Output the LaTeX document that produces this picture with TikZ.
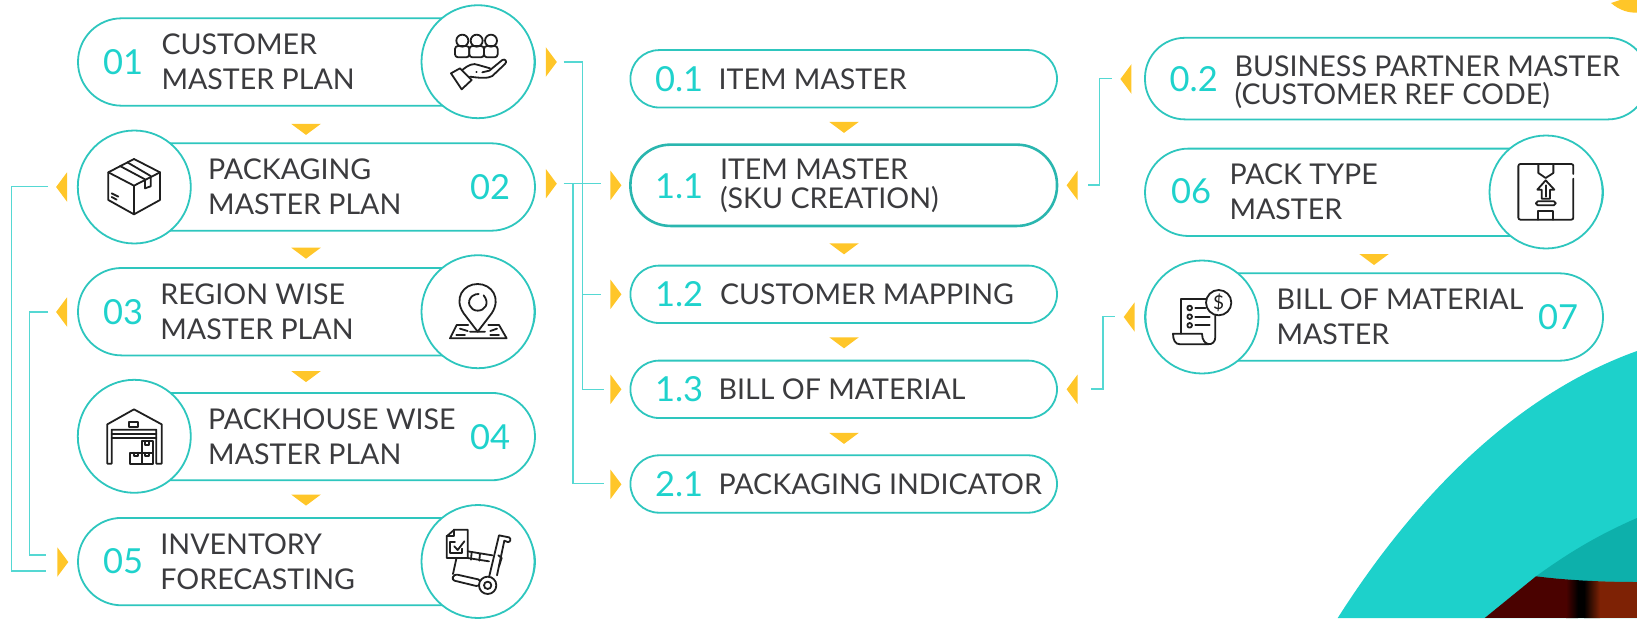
\documentclass[tikz,border=0pt]{standalone}
\usepackage{fontspec}
\setmainfont{Lato}
\usetikzlibrary{shapes.geometric}
\definecolor{pillc}{HTML}{2EC6BE}
\definecolor{linkc}{HTML}{55D8D3}
\definecolor{numc}{HTML}{1FD2CC}
\definecolor{ink}{HTML}{3B3B3E}
\definecolor{ylw}{HTML}{FFC629}
\definecolor{tealA}{HTML}{1DD1CB}
\definecolor{tealB}{HTML}{0DB0AB}
\definecolor{redA}{HTML}{4A0200}
\definecolor{redB}{HTML}{7E2205}
\tikzset{
 x=1pt,y=-1pt,
 pill/.style={draw=pillc,line width=1.8pt,fill=white,rectangle,rounded corners=43.6pt,inner sep=0pt,minimum height=87.4pt,anchor=center},
 spill/.style={draw=pillc,line width=1.8pt,fill=white,rectangle,rounded corners=28.7pt,inner sep=0pt,minimum height=57.4pt,minimum width=426.6pt},
 ring/.style={draw=pillc,line width=1.8pt,fill=white,circle,inner sep=0pt,minimum size=113pt},
 lab/.style={anchor=base west,inner sep=0pt,outer sep=0pt,align=left,text=ink,font=\fontsize{28.6}{35}\selectfont},
 num/.style={anchor=base west,inner sep=0pt,outer sep=0pt,text=numc,font=\fontsize{34.5}{36}\selectfont},
 tri/.style={isosceles triangle,isosceles triangle stretches,fill=ylw,inner sep=0pt,outer sep=0pt},
 trir/.style={tri,minimum width=29.5pt,minimum height=11pt,shape border rotate=0},
 tril/.style={tri,minimum width=29.5pt,minimum height=11pt,shape border rotate=180},
 trid/.style={tri,minimum width=29.5pt,minimum height=11pt,shape border rotate=-90},
 link/.style={draw=linkc,line width=1.4pt},
 ico/.style={draw=black!88,line width=1.8pt,line cap=round,line join=round},
}
\begin{document}
\begin{tikzpicture}
\useasboundingbox (0,0) rectangle (1637,618);
\clip (0,0) rectangle (1637,618);
% corner shapes
\fill[tealA] (1337.7,618) .. controls (1400,520) and (1500,400) .. (1637,351) -- (1637,618) -- cycle;
\fill[tealB] (1536,576.3) .. controls (1575,548) and (1605,532) .. (1637,518) -- (1637,582) .. controls (1600,582) and (1565,580) .. (1536,576.3) -- cycle;
\begin{scope}
\clip (1484.7,618) -- (1536,576.3) .. controls (1565,580) and (1600,582) .. (1637,582) -- (1637,618) -- cycle;
\fill[redA] (1480,570) rectangle (1566,618);
\shade[left color=redA,right color=black] (1566,570) rectangle (1578,618);
\fill[black] (1578,570) rectangle (1584,618);
\shade[left color=black,right color=redB] (1584,570) rectangle (1600,618);
\fill[redB] (1600,570) rectangle (1637,618);
\end{scope}
\fill[ylw] (1611,3) .. controls (1620,11) and (1630,13) .. (1637,12.6) -- (1637,0) -- (1620,0) -- cycle;

% left column
\node[pill,minimum width=457pt] (p1) at (306.5,62) {};
\node[ring] (c1) at (478,61.7) {};
\node[pill,minimum width=457pt] (p2) at (306.5,187) {};
\node[ring] (c2) at (134.3,187) {};
\node[pill,minimum width=457pt] (p3) at (306.5,311.7) {};
\node[ring] (c3) at (478,311.7) {};
\node[pill,minimum width=457pt] (p4) at (306.5,436.6) {};
\node[ring] (c4) at (134.3,436.3) {};
\node[pill,minimum width=457pt] (p5) at (306.5,561.6) {};
\node[ring] (c5) at (478,561.5) {};
\node[num] (n1) at (103,74.5) {01};
\node[lab] (l1) at (161.5,89.3) {CUSTOMER\\MASTER PLAN};
\node[num] (n2) at (470,199.8) {02};
\node[lab] (l2) at (208.2,214) {PACKAGING\\MASTER PLAN};
\node[num] (n3) at (103,324.5) {03};
\node[lab] (l3) at (160.4,339.3) {REGION WISE\\MASTER PLAN};
\node[num] (n4) at (470,449.5) {04};
\node[lab] (l4) at (208.2,464) {PACKHOUSE WISE\\MASTER PLAN};
\node[num] (n5) at (103,573.8) {05};
\node[lab] (l5) at (160.4,589.3) {INVENTORY\\FORECASTING};

% middle column
\node[spill] (m1) at (843.7,78.8) {};
\node[spill,line width=2.6pt,draw=pillc!92!black,minimum height=81.3pt,rounded corners=40pt] (m2) at (843.7,185.3) {};
\node[spill] (m3) at (843.7,294.3) {};
\node[spill] (m4) at (843.7,389.3) {};
\node[spill] (m5) at (843.7,484) {};
\node[num] (nm1) at (655,91) {0.1};
\node[lab] (lm1) at (718.6,89.3) {ITEM MASTER};
\node[num] (nm2) at (655,198) {1.1};
\node[lab,font=\fontsize{28.6}{28.6}\selectfont] (lm2) at (720,208) {ITEM MASTER\\(SKU CREATION)};
\node[num] (nm3) at (655,306) {1.2};
\node[lab] (lm3) at (720,304.3) {CUSTOMER MAPPING};
\node[num] (nm4) at (655,401) {1.3};
\node[lab] (lm4) at (718.6,399.3) {BILL OF MATERIAL};
\node[num] (nm5) at (655,496) {2.1};
\node[lab] (lm5) at (718.6,494.3) {PACKAGING INDICATOR};

% right column
\node[spill,minimum width=503pt,minimum height=81.6pt,rounded corners=40pt] (r1) at (1396.5,78.6) {};
\node[pill,minimum width=458pt] (r2) at (1374,192.3) {};
\node[ring] (c6) at (1546,192) {};
\node[pill,minimum width=458pt] (r3) at (1374,317) {};
\node[ring] (c7) at (1202,317) {};
\node[num] (nr1) at (1169.6,91.7) {0.2};
\node[lab,font=\fontsize{28.6}{27.8}\selectfont] (lr1) at (1234.5,104.7) {BUSINESS PARTNER MASTER\\(CUSTOMER REF CODE)};
\node[num] (nr2) at (1171,203.7) {06};
\node[lab,font=\fontsize{28.6}{35.5}\selectfont] (lr2) at (1229.5,219.5) {PACK TYPE\\MASTER};
\node[num] (nr3) at (1538,329.3) {07};
\node[lab,font=\fontsize{28.6}{35.5}\selectfont] (lr3) at (1276.5,344.9) {BILL OF MATERIAL\\MASTER};

% flow markers
\node[trid] (d1) at (306,128.8) {};
\node[trid] (d2) at (306,252.6) {};
\node[trid] (d3) at (306,376) {};
\node[trid] (d4) at (306,499.5) {};
\node[trid] (d5) at (844,126.8) {};
\node[trid] (d6) at (844,248.2) {};
\node[trid] (d7) at (844,342.2) {};
\node[trid] (d8) at (844,437.8) {};
\node[trid] (d9) at (1374,258.9) {};
\node[trir] (a1) at (550.7,62) {};
\node[trir] (a2) at (550.7,183.7) {};
\node[tril] (a3) at (62.2,187) {};
\node[tril] (a4) at (62.2,312) {};
\node[trir] (a5) at (62.2,562) {};
\node[trir] (b1) at (615.3,185.3) {};
\node[trir] (b2) at (615.3,294.3) {};
\node[trir] (b3) at (615.3,389.3) {};
\node[trir] (b4) at (615.3,484.3) {};
\node[tril] (b5) at (1072.7,185.3) {};
\node[tril] (b6) at (1072.7,389.3) {};
\node[tril] (e1) at (1126.5,79) {};
\node[tril] (e2) at (1129.8,317) {};

% connectors
\coordinate (s1) at (563.6,62);
\coordinate (j1) at (582.5,62);
\coordinate (q2) at (601.4,294.3);
\coordinate (q3) at (604.3,389.3);
\coordinate (s2) at (563.6,183.7);
\coordinate (q1) at (601.4,183.7);
\coordinate (j2) at (572.9,183.7);
\coordinate (q4) at (604.3,483.3);
\draw[link] (s1) -- (j1) |- (q3);
\draw[link] (j1 |- q2) -- (q2);
\draw[link] (s2) -- (q1);
\draw[link] (j2) |- (q4);
\coordinate (u1) at (48,186.7);
\coordinate (u2) at (45.7,571);
\coordinate (v1) at (48,312);
\coordinate (v2) at (45.7,555);
\draw[link] (u1) -- (11.5,186.7) |- (u2);
\draw[link] (v1) -- (29.6,312) |- (v2);
\coordinate (w1) at (1111.6,78.4);
\coordinate (w2) at (1087.7,185);
\coordinate (z1) at (1114.5,316.5);
\coordinate (z2) at (1091,389);
\draw[link] (w1) -- (1099.5,78.4) |- (w2);
\draw[link] (z1) -- (1103,316.5) |- (z2);

% icon: customers in a hand
\begin{scope}[shift={(435,20)},x=0.3333pt,y=-0.3333pt,ico]
\draw (82,62) circle (18) (125,62) circle (18) (168,62) circle (18);
\draw[rounded corners=3pt] (60,112) -- (60,78) -- (103,78) -- (103,112) -- cycle;
\draw[rounded corners=3pt] (103,112) -- (103,78) -- (147,78) -- (147,112) -- cycle;
\draw[rounded corners=3pt] (147,112) -- (147,78) -- (188,78) -- (188,112) -- cycle;
\draw (48,160) -- (75,145) -- (110,180) -- (80,208) -- cycle;
\draw (82,150) .. controls (100,135) and (115,128) .. (130,135) -- (165,145);
\draw (142,157) -- (163,152) -- (202,120) .. controls (210,115) and (218,125) .. (210,132) -- (172,168) .. controls (160,175) and (140,175) .. (105,170);
\draw (124,157) -- (125,157);
\end{scope}
% icon: parcel
\begin{scope}[shift={(90,145)},x=0.3333pt,y=-0.3333pt,ico]
\draw (132,42) -- (210,82) -- (210,165) -- (132,208) -- (55,165) -- (55,82) -- cycle;
\draw (55,82) -- (132,122) -- (210,82) (132,122) -- (132,208);
\draw (90,63) -- (165,103) -- (165,130) -- (182,124) -- (182,93) -- (112,52);
\draw (65,145) -- (85,155) (65,156) -- (80,164);
\end{scope}
% icon: map pin
\begin{scope}[shift={(435,270)},x=0.3333pt,y=-0.3333pt,ico]
\draw (128,185) -- (86,130) .. controls (55,85) and (85,42) .. (128,42) .. controls (170,42) and (200,85) .. (170,130) -- cycle;
\draw (146,76) .. controls (165,100) and (150,122) .. (128,122) .. controls (105,122) and (92,95) .. (112,78) .. controls (118,73) and (125,72) .. (131,72);
\draw (100,165) -- (65,165) -- (45,205) -- (215,205) -- (192,165) -- (160,165);
\draw (105,185) -- (150,185) (75,176) -- (98,183) (64,195) -- (90,195) (166,195) -- (192,195) (166,183) -- (186,176);
\end{scope}
% icon: warehouse
\begin{scope}[shift={(90,392)},x=0.3333pt,y=-0.3333pt,ico]
\draw (52,215) -- (52,97) -- (132,52) -- (215,97) -- (215,215) -- (199,215) -- (199,113) -- (65,113) -- (65,215) -- cycle;
\draw (65,125) -- (199,125) (65,137) -- (199,137);
\draw (118,90) rectangle (145,104);
\draw (120,182) rectangle (155,215) (155,182) rectangle (188,215) (155,148) rectangle (188,182);
\draw (132,182) -- (132,192) -- (143,192) -- (143,182);
\draw (166,182) -- (166,192) -- (177,192) -- (177,182);
\draw (166,148) -- (166,158) -- (177,158) -- (177,148);
\end{scope}
% icon: trolley and checklist
\begin{scope}[shift={(435,518)},x=0.3333pt,y=-0.3333pt,ico]
\draw (35,55) -- (58,35) -- (98,35) -- (98,120) -- (35,120) -- cycle;
\draw (58,35) -- (58,55) -- (35,55);
\draw (60,72) -- (46,72) -- (46,106) -- (80,106) -- (80,92);
\draw (58,85) -- (68,96) -- (88,70);
\draw (98,100) -- (172,112) (110,102) -- (108,125) (135,106) -- (133,128);
\draw (98,120) -- (162,130);
\draw (64,122) -- (54,168);
\draw (192,52) -- (162,178) (208,68) -- (186,172) (192,52) -- (222,58) .. controls (230,62) and (226,74) .. (218,72) -- (208,68);
\draw (190,112) -- (200,120) -- (192,145);
\draw[rounded corners=3pt] (58,168) -- (138,186) -- (132,206) -- (50,186) -- cycle;
\draw[fill=white] (158,202) circle (26);
\draw (158,202) circle (11);
\end{scope}
% icon: pack type
\begin{scope}[shift={(1500,148)},x=0.3333pt,y=-0.3333pt,ico]
\draw[rounded corners=2pt] (220,78) -- (220,48) -- (55,48) -- (55,215) -- (220,215) -- (220,92);
\draw (115,48) -- (115,75) -- (137,90) -- (160,75) -- (160,48);
\draw (137,97) -- (112,125) -- (125,125) -- (125,152) -- (150,152) -- (150,125) -- (163,125) -- cycle;
\draw (137,112) -- (137,146);
\draw[rounded corners=1.8pt] (108,160) rectangle (167,172);
\draw (115,215) -- (115,190) -- (160,190) -- (160,215);
\end{scope}
% icon: bill
\begin{scope}[shift={(1157,272)},x=0.3333pt,y=-0.3333pt,ico]
\draw (72,185) -- (72,80) -- (150,80);
\draw (175,130) -- (175,195) .. controls (175,225) and (135,225) .. (135,185) -- (48,185) .. controls (48,205) and (55,217) .. (70,217) -- (155,217);
\draw (98,108) circle (7) (98,134) circle (7) (98,160) circle (7);
\draw (115,108) -- (145,108) (115,134) -- (158,134) (115,160) -- (158,160);
\draw[fill=white] (185,92) circle (38);
\node[inner sep=0pt,text=black!88,font=\fontsize{19}{19}\selectfont] (dollar) at (185,92) {\$};
\end{scope}
\end{tikzpicture}
\end{document}
